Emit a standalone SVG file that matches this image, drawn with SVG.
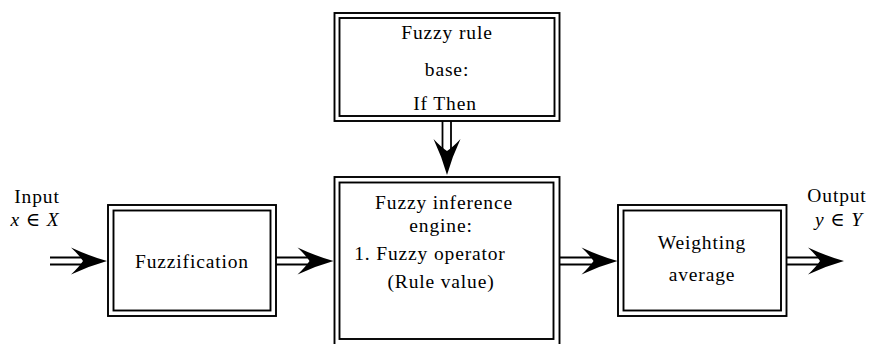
<svg xmlns="http://www.w3.org/2000/svg" width="871" height="344" viewBox="0 0 871 344">
<style>
.box{fill:none;stroke:#000;stroke-width:1.9}
.ln{fill:none;stroke:#000;stroke-width:1.8}
.hd{fill:#000;stroke:none}
.t{font-family:'Liberation Serif','DejaVu Serif',serif;font-size:19.5px;letter-spacing:0.85px;fill:#000;text-anchor:middle}
.it{font-style:italic}
</style>
<defs>
<path id="head" d="M0,0 Q-18,-5 -36,-13.5 Q-28,-6 -24,0 Q-28,6 -36,13.5 Q-18,5 0,0 Z"/>
</defs>
<rect width="871" height="344" fill="#fff"/>
<g id="rulebase">
<rect class="box" x="334.5" y="13" width="225" height="108"/>
<rect class="box" x="339.5" y="18" width="215" height="98"/>
<text class="t" x="447" y="39">Fuzzy rule</text>
<text class="t" x="447" y="76">base:</text>
<text class="t" x="445" y="109.5">If Then</text>
</g>
<g id="inference">
<rect class="box" x="334.5" y="177" width="225" height="168"/>
<rect class="box" x="339.5" y="182.5" width="214" height="156.5"/>
<text class="t" x="444" y="209">Fuzzy inference</text>
<text class="t" x="441" y="232">engine:</text>
<text class="t" x="430" y="260">1. Fuzzy operator</text>
<text class="t" x="441" y="288">(Rule value)</text>
</g>
<g id="fuzzification">
<rect class="box" x="108" y="205" width="168" height="111"/>
<rect class="box" x="113.5" y="210.5" width="157" height="100"/>
<text class="t" x="192" y="268">Fuzzification</text>
</g>
<g id="weighting">
<rect class="box" x="618" y="205" width="168.5" height="111"/>
<rect class="box" x="623.5" y="210.5" width="157.5" height="100"/>
<text class="t" x="702" y="249">Weighting</text>
<text class="t" x="702" y="281">average</text>
</g>
<g id="input">
<text class="t" x="37" y="203">Input</text>
<text class="t" x="35" y="226"><tspan class="it">x</tspan> ∈ <tspan class="it">X</tspan></text>
</g>
<g id="output">
<text class="t" x="837" y="202">Output</text>
<text class="t" x="839" y="226"><tspan class="it">y</tspan> ∈ <tspan class="it">Y</tspan></text>
</g>
<g id="connectors">
<line class="ln" x1="442.5" y1="121" x2="442.5" y2="152"/>
<line class="ln" x1="451" y1="121" x2="451" y2="152"/>
<use href="#head" class="hd" transform="translate(447,175) rotate(90)"/>
<line class="ln" x1="50" y1="257.5" x2="85" y2="257.5"/>
<line class="ln" x1="50" y1="264.5" x2="85" y2="264.5"/>
<use href="#head" class="hd" transform="translate(107,261)"/>
<line class="ln" x1="276" y1="257.5" x2="311" y2="257.5"/>
<line class="ln" x1="276" y1="264.5" x2="311" y2="264.5"/>
<use href="#head" class="hd" transform="translate(333.5,261)"/>
<line class="ln" x1="560" y1="257.5" x2="595" y2="257.5"/>
<line class="ln" x1="560" y1="264.5" x2="595" y2="264.5"/>
<use href="#head" class="hd" transform="translate(617.5,261)"/>
<line class="ln" x1="787" y1="257.5" x2="822" y2="257.5"/>
<line class="ln" x1="787" y1="264.5" x2="822" y2="264.5"/>
<use href="#head" class="hd" transform="translate(844,261)"/>
</g>
</svg>
